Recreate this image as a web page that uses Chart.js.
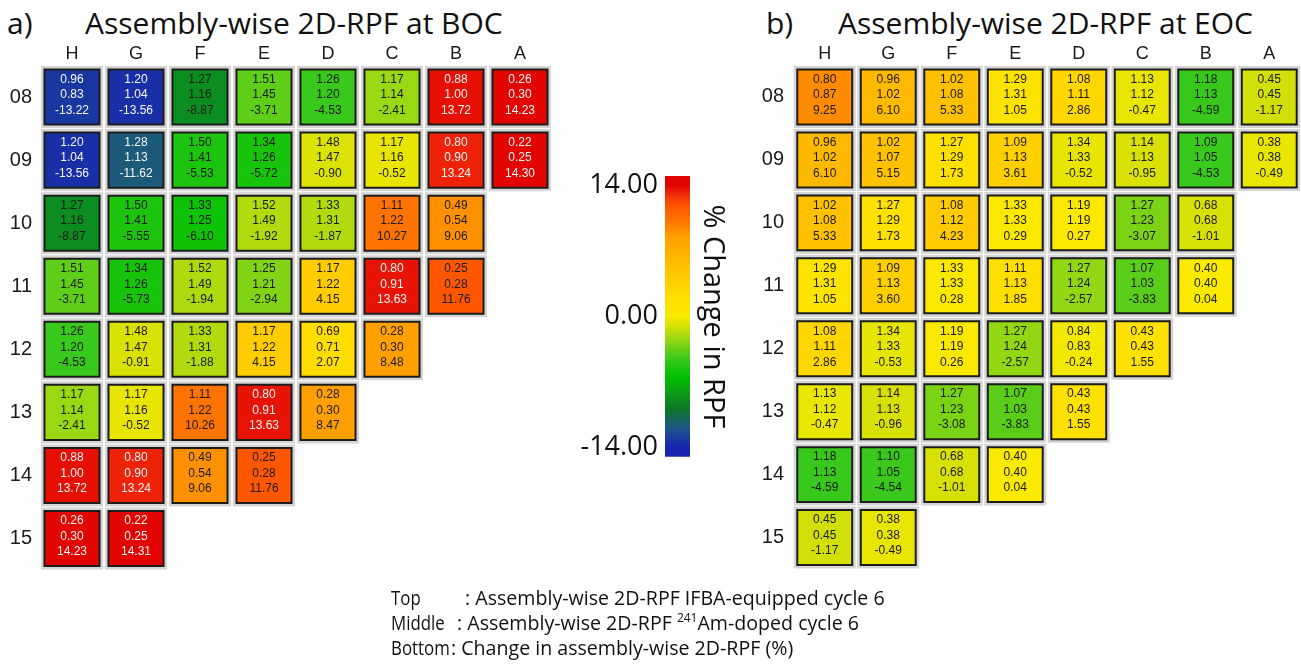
<!DOCTYPE html>
<html>
<head>
<meta charset="utf-8">
<title>Assembly-wise 2D-RPF</title>
<script src="https://cdn.jsdelivr.net/npm/chart.js@4/dist/chart.umd.min.js"></script>
<style>
  html, body { margin: 0; padding: 0; background: #fff; }
  body { width: 1301px; height: 665px; position: relative; overflow: hidden; color: #111; }
  canvas { position: absolute; }
  .t { position: absolute; white-space: nowrap; font-family: "Open Sans", sans-serif; }
  .panel { font-size: 30px; line-height: 30px; }
  .note { font-size: 19.6px; line-height: 25px; }
  .key { transform: scaleX(0.86); transform-origin: left center; }
  .note sup { font-size: 12px; line-height: 0; vertical-align: 8px; }
</style>
</head>
<body>
<div class="t panel" style="left:7px;top:8px">a)</div>
<div class="t panel" style="left:85px;top:8px">Assembly-wise 2D-RPF at BOC</div>
<div class="t panel" style="left:766px;top:8px">b)</div>
<div class="t panel" style="left:838px;top:8px">Assembly-wise 2D-RPF at EOC</div>

<canvas id="boc" width="560" height="590" style="left:0;top:0"></canvas>
<canvas id="eoc" width="541" height="590" style="left:760px;top:0"></canvas>
<canvas id="scale" width="180" height="330" style="left:560px;top:150px"></canvas>

<div class="t note key" style="left:391px;top:585px">Top</div>
<div class="t note" style="left:465px;top:585px">: Assembly-wise 2D-RPF IFBA-equipped cycle 6</div>
<div class="t note key" style="left:391px;top:610px">Middle</div>
<div class="t note" style="left:457px;top:610px">: Assembly-wise 2D-RPF <sup>241</sup>Am-doped cycle 6</div>
<div class="t note key" style="left:391px;top:635px">Bottom</div>
<div class="t note" style="left:451px;top:635px">: Change in assembly-wise 2D-RPF (%)</div>

<script>
// Core map coordinates (quarter core, rows 08-15, columns H-A)
const columns = ['H', 'G', 'F', 'E', 'D', 'C', 'B', 'A'];
const rows = ['08', '09', '10', '11', '12', '13', '14', '15'];

// Beginning of cycle
const bocTop = [
  [0.96, 1.20, 1.27, 1.51, 1.26, 1.17, 0.88, 0.26],
  [1.20, 1.28, 1.50, 1.34, 1.48, 1.17, 0.80, 0.22],
  [1.27, 1.50, 1.33, 1.52, 1.33, 1.11, 0.49],
  [1.51, 1.34, 1.52, 1.25, 1.17, 0.80, 0.25],
  [1.26, 1.48, 1.33, 1.17, 0.69, 0.28],
  [1.17, 1.17, 1.11, 0.80, 0.28],
  [0.88, 0.80, 0.49, 0.25],
  [0.26, 0.22]
];
const bocMiddle = [
  [0.83, 1.04, 1.16, 1.45, 1.20, 1.14, 1.00, 0.30],
  [1.04, 1.13, 1.41, 1.26, 1.47, 1.16, 0.90, 0.25],
  [1.16, 1.41, 1.25, 1.49, 1.31, 1.22, 0.54],
  [1.45, 1.26, 1.49, 1.21, 1.22, 0.91, 0.28],
  [1.20, 1.47, 1.31, 1.22, 0.71, 0.30],
  [1.14, 1.16, 1.22, 0.91, 0.30],
  [1.00, 0.90, 0.54, 0.28],
  [0.30, 0.25]
];
const bocChange = [
  [-13.22, -13.56, -8.87, -3.71, -4.53, -2.41, 13.72, 14.23],
  [-13.56, -11.62, -5.53, -5.72, -0.90, -0.52, 13.24, 14.30],
  [-8.87, -5.55, -6.10, -1.92, -1.87, 10.27, 9.06],
  [-3.71, -5.73, -1.94, -2.94, 4.15, 13.63, 11.76],
  [-4.53, -0.91, -1.88, 4.15, 2.07, 8.48],
  [-2.41, -0.52, 10.26, 13.63, 8.47],
  [13.72, 13.24, 9.06, 11.76],
  [14.23, 14.31]
];

// End of cycle
const eocTop = [
  [0.80, 0.96, 1.02, 1.29, 1.08, 1.13, 1.18, 0.45],
  [0.96, 1.02, 1.27, 1.09, 1.34, 1.14, 1.09, 0.38],
  [1.02, 1.27, 1.08, 1.33, 1.19, 1.27, 0.68],
  [1.29, 1.09, 1.33, 1.11, 1.27, 1.07, 0.40],
  [1.08, 1.34, 1.19, 1.27, 0.84, 0.43],
  [1.13, 1.14, 1.27, 1.07, 0.43],
  [1.18, 1.10, 0.68, 0.40],
  [0.45, 0.38]
];
const eocMiddle = [
  [0.87, 1.02, 1.08, 1.31, 1.11, 1.12, 1.13, 0.45],
  [1.02, 1.07, 1.29, 1.13, 1.33, 1.13, 1.05, 0.38],
  [1.08, 1.29, 1.12, 1.33, 1.19, 1.23, 0.68],
  [1.31, 1.13, 1.33, 1.13, 1.24, 1.03, 0.40],
  [1.11, 1.33, 1.19, 1.24, 0.83, 0.43],
  [1.12, 1.13, 1.23, 1.03, 0.43],
  [1.13, 1.05, 0.68, 0.40],
  [0.45, 0.38]
];
const eocChange = [
  [9.25, 6.10, 5.33, 1.05, 2.86, -0.47, -4.59, -1.17],
  [6.10, 5.15, 1.73, 3.61, -0.52, -0.95, -4.53, -0.49],
  [5.33, 1.73, 4.23, 0.29, 0.27, -3.07, -1.01],
  [1.05, 3.60, 0.28, 1.85, -2.57, -3.83, 0.04],
  [2.86, -0.53, 0.26, -2.57, -0.24, 1.55],
  [-0.47, -0.96, -3.08, -3.83, 1.55],
  [-4.59, -4.54, -1.01, 0.04],
  [-1.17, -0.49]
];

// Colour scale
const colorbarTicks = [-14, 0, 14];
const colorbarLimit = 15;
const mapValues = [-14, -12, -10, -8, -6.5, -4.5, -2.5, -1, 0, 2, 4, 6, 8.5, 10, 11.8, 13, 14];
const mapColors = [
  [22, 36, 176], [30, 84, 138], [12, 118, 42], [12, 158, 22], [2, 192, 2],
  [58, 200, 28], [150, 215, 20], [215, 225, 6], [250, 234, 0], [255, 222, 0],
  [255, 205, 0], [255, 186, 0], [255, 160, 0], [255, 120, 0], [255, 86, 0],
  [240, 44, 10], [226, 4, 0]
];

function mapColor(v) {
  const n = mapValues.length;
  let c;
  if (v <= mapValues[0]) c = mapColors[0];
  else if (v >= mapValues[n - 1]) c = mapColors[n - 1];
  else {
    let i = 0;
    while (v > mapValues[i + 1]) i++;
    const f = (v - mapValues[i]) / (mapValues[i + 1] - mapValues[i]);
    c = mapColors[i].map((a, k) => Math.round(a + (mapColors[i + 1][k] - a) * f));
  }
  return 'rgb(' + c.join(',') + ')';
}

function textColor(v) {
  return (v <= -10 || v >= 12.5) ? '#f6f6f6' : '#1a1a1a';
}

function cellPoints(top, middle, change) {
  const pts = [];
  change.forEach((row, i) => row.forEach((v, j) => {
    pts.push({ x: columns[j], y: rows[i], top: top[i][j], middle: middle[i][j], change: v });
  }));
  return pts;
}

// Writes the three values into every assembly square
const cellText = {
  id: 'cellText',
  afterDatasetsDraw(chart) {
    const meta = chart.getDatasetMeta(0);
    const data = chart.data.datasets[0].data;
    const ctx = chart.ctx;
    ctx.save();
    ctx.font = '12px "Liberation Sans", Arial, sans-serif';
    ctx.textAlign = 'center';
    ctx.textBaseline = 'middle';
    meta.data.forEach((el, i) => {
      const d = data[i];
      ctx.fillStyle = textColor(d.change);
      ctx.fillText(d.top.toFixed(2), el.x, el.y - 17.5);
      ctx.fillText(d.middle.toFixed(2), el.x, el.y - 2);
      ctx.fillText(d.change.toFixed(2), el.x, el.y + 13.5);
    });
    ctx.restore();
  }
};

// Spacing between neighbouring squares, taken from the laid-out category scales
function pitchOf(c) {
  const sx = c.chart.scales.x, sy = c.chart.scales.y;
  if (!sx || !sy || !sx.width || !sy.height) return 0;
  return Math.min(
    Math.abs(sx.getPixelForValue(1) - sx.getPixelForValue(0)),
    Math.abs(sy.getPixelForValue(1) - sy.getPixelForValue(0))
  );
}

function squareRadius(c, inset) {
  const p = pitchOf(c);
  return p > inset ? (p - inset) / Math.SQRT2 : 0;
}

function coreMap(id, top, middle, change, axisWidth, rowPad, padRight) {
  const pts = cellPoints(top, middle, change);
  return new Chart(document.getElementById(id), {
    type: 'scatter',
    data: {
      datasets: [
        {
          data: pts,
          order: 1,
          clip: false,
          pointStyle: 'rect',
          pointRadius: c => squareRadius(c, 8),
          pointBackgroundColor: c => mapColor(c.raw.change),
          pointBorderColor: '#1c1c1c',
          pointBorderWidth: 2
        },
        {
          data: pts,
          order: 2,
          clip: false,
          pointStyle: 'rect',
          pointRadius: c => squareRadius(c, 1),
          pointBackgroundColor: '#d5d5d5',
          pointBorderWidth: 0
        }
      ]
    },
    options: {
      responsive: false,
      animation: false,
      events: [],
      layout: { padding: { left: 0, top: 0, right: padRight, bottom: 13.5 } },
      plugins: { legend: { display: false }, tooltip: { enabled: false } },
      scales: {
        x: {
          type: 'category',
          labels: columns,
          position: 'top',
          offset: true,
          grid: { display: false, drawTicks: false },
          border: { display: false },
          ticks: {
            autoSkip: false, maxRotation: 0, padding: 1,
            color: '#1a1a1a',
            font: { family: '"Liberation Sans", Arial, sans-serif', size: 18 }
          },
          afterFit: s => { s.height = 65.5; }
        },
        y: {
          type: 'category',
          labels: rows,
          offset: true,
          grid: { display: false, drawTicks: false },
          border: { display: false },
          ticks: {
            autoSkip: false, padding: rowPad,
            color: '#1a1a1a',
            font: { family: '"Liberation Sans", Arial, sans-serif', size: 20 }
          },
          afterFit: s => { s.width = axisWidth; }
        }
      }
    },
    plugins: [cellText]
  });
}

coreMap('boc', bocTop, bocMiddle, bocChange, 40, 8, 8);
coreMap('eoc', eocTop, eocMiddle, eocChange, 33, 9, 0);

// Colour bar
function barGradient(chart) {
  const a = chart.chartArea;
  if (!a) return mapColor(0);
  const g = chart.ctx.createLinearGradient(0, a.bottom, 0, a.top);
  g.addColorStop(0, mapColor(-colorbarLimit));
  mapValues.forEach(v => g.addColorStop((v + colorbarLimit) / (2 * colorbarLimit), mapColor(v)));
  g.addColorStop(1, mapColor(colorbarLimit));
  return g;
}

new Chart(document.getElementById('scale'), {
  type: 'bar',
  data: {
    labels: [''],
    datasets: [{
      data: [[-colorbarLimit, colorbarLimit]],
      backgroundColor: c => barGradient(c.chart),
      borderWidth: 0,
      barPercentage: 1,
      categoryPercentage: 1
    }]
  },
  options: {
    responsive: false,
    animation: false,
    events: [],
    layout: { padding: { top: 26, bottom: 23, left: 0, right: 0 } },
    plugins: { legend: { display: false }, tooltip: { enabled: false } },
    scales: {
      x: { display: false },
      y: {
        position: 'left',
        min: -colorbarLimit, max: colorbarLimit,
        grid: { display: false, drawTicks: false },
        border: { display: false },
        afterBuildTicks: s => { s.ticks = colorbarTicks.map(v => ({ value: v })); },
        ticks: {
          padding: 7,
          color: '#111',
          font: { family: '"Open Sans", sans-serif', size: 27 },
          callback: v => v.toFixed(2)
        },
        afterFit: s => { s.width = 105; }
      },
      y2: {
        position: 'right',
        min: -colorbarLimit, max: colorbarLimit,
        grid: { display: false, drawTicks: false },
        border: { display: false },
        ticks: { display: false },
        title: {
          display: true,
          text: '% Change in RPF',
          color: '#111',
          font: { family: '"Open Sans", sans-serif', size: 29 },
          padding: { top: 10, bottom: 0 }
        },
        afterFit: s => { s.width = 50; }
      }
    }
  }
});
</script>
</body>
</html>
